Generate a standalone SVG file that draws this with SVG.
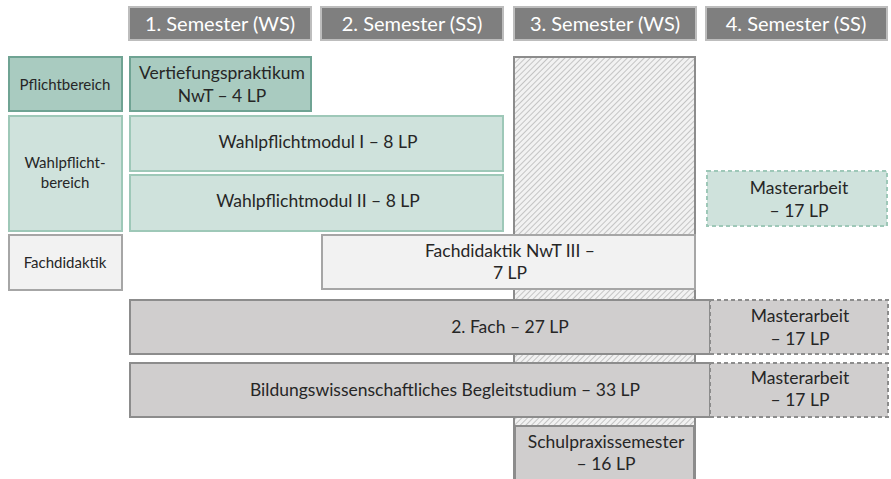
<svg xmlns="http://www.w3.org/2000/svg" width="891" height="479" viewBox="0 0 891 479">
<style>
text{font-family:Lato,"Open Sans","Liberation Sans",sans-serif;fill:#262626;text-anchor:middle}
.hd rect{fill:#7f7f7f;stroke:#bdbdbd;stroke-width:2}
.hd text{fill:#fff;font-size:20px}
.lab{font-size:15px}
.body{font-size:17.5px}
.dark{fill:#a9cbc0;stroke:#6fa393;stroke-width:2}
.light{fill:#cfe2dc;stroke:#9ec8b8;stroke-width:2}
.pale{fill:#f2f2f2;stroke:#a6a6a6;stroke-width:2}
.grey{fill:#d0cece;stroke:#8c8c8c;stroke-width:2}
.dash{stroke-dasharray:4 3}
</style>
<defs>
<pattern id="hatch" width="4" height="4" patternUnits="userSpaceOnUse" patternTransform="rotate(45)">
<rect width="4" height="4" fill="#f2f2f2"/>
<line x1="0" y1="0" x2="0" y2="4" stroke="#b8b8b8" stroke-width="1.6"/>
</pattern>
</defs>
<rect width="891" height="479" fill="#fff"/>
<g id="headers" class="hd">
<g id="h1"><rect x="129" y="7" width="182" height="33"/><text x="220" y="31">1. Semester (WS)</text></g>
<g id="h2"><rect x="321" y="7" width="182" height="33"/><text x="412" y="31">2. Semester (SS)</text></g>
<g id="h3"><rect x="514" y="7" width="182" height="33"/><text x="605" y="31">3. Semester (WS)</text></g>
<g id="h4"><rect x="706" y="7" width="181" height="33"/><text x="796" y="31">4. Semester (SS)</text></g>
</g>
<g id="hatched"><rect x="514" y="57" width="181" height="422" fill="url(#hatch)" stroke="#8c8c8c" stroke-width="2"/></g>
<g id="pflichtbereich"><rect class="dark" x="9" y="57" width="113" height="54"/><text class="lab" x="65" y="90">Pflichtbereich</text></g>
<g id="vertiefung"><rect class="dark" x="130" y="57" width="181" height="54"/><text class="body" x="222" y="79">Vertiefungspraktikum</text><text class="body" x="222" y="102">NwT – 4 LP</text></g>
<g id="wahlpflichtbereich"><rect class="light" x="9" y="116" width="113" height="115"/><text class="lab" x="65" y="168">Wahlpflicht-</text><text class="lab" x="65" y="188">bereich</text></g>
<g id="wpm1"><rect class="light" x="130" y="116" width="373" height="55"/><text class="body" x="318" y="148">Wahlpflichtmodul I – 8 LP</text></g>
<g id="wpm2"><rect class="light" x="130" y="175" width="373" height="56"/><text class="body" x="318" y="207">Wahlpflichtmodul II – 8 LP</text></g>
<g id="masterarbeit1"><rect class="light dash" x="707" y="171" width="180" height="55"/><text class="body" x="799" y="194">Masterarbeit</text><text class="body" x="799" y="217">– 17 LP</text></g>
<g id="fachdidaktik"><rect class="pale" x="9" y="235" width="113" height="55"/><text class="lab" x="65" y="268">Fachdidaktik</text></g>
<g id="fdnwt3"><rect class="pale" x="322" y="235" width="373" height="54"/><text class="body" x="510" y="257">Fachdidaktik NwT III –</text><text class="body" x="510" y="279">7 LP</text></g>
<g id="fach2"><rect class="grey" x="130" y="300" width="580" height="54"/><text class="body" x="510" y="333">2. Fach – 27 LP</text></g>
<g id="masterarbeit2"><rect class="grey dash" x="710" y="300" width="178" height="54"/><text class="body" x="800" y="322">Masterarbeit</text><text class="body" x="800" y="345">– 17 LP</text></g>
<g id="bildung"><rect class="grey" x="130" y="363" width="580" height="54"/><text class="body" x="445" y="396">Bildungswissenschaftliches Begleitstudium – 33 LP</text></g>
<g id="masterarbeit3"><rect class="grey dash" x="710" y="363" width="178" height="54"/><text class="body" x="800" y="384">Masterarbeit</text><text class="body" x="800" y="406">– 17 LP</text></g>
<g id="schulpraxis"><rect class="grey" x="515" y="426" width="179" height="54"/><text class="body" x="606" y="448">Schulpraxissemester</text><text class="body" x="606" y="470">– 16 LP</text></g>
<g id="connectors"/>
</svg>
